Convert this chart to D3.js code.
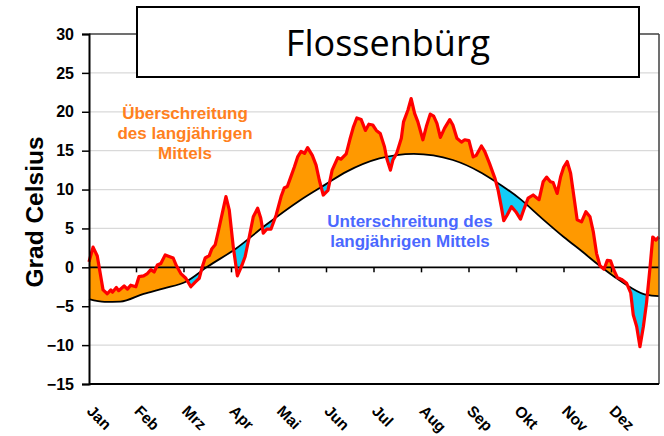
<!DOCTYPE html>
<html><head><meta charset="utf-8">
<script src="https://cdn.jsdelivr.net/npm/d3@7"></script>
<style>body{margin:0;background:#fff} svg{display:block}</style>
</head><body><svg id="c" width="664" height="436"></svg>
<script>
const title = "Flossenbürg";
const yAxisTitle = "Grad Celsius";
const months = ["Jan","Feb","Mrz","Apr","Mai","Jun","Jul","Aug","Sep","Okt","Nov","Dez"];
const yTicks = [-15,-10,-5,0,5,10,15,20,25,30];
const gridValues = [-10,-5,5,10,15,20,25];
const aboveLabel = ["Überschreitung","des langjährigen","Mittels"];
const belowLabel = ["Unterschreitung des","langjährigen Mittels"];

// daily temperature (day of year, °C)
const tempDays = [0,2.6,5.3,9,11.7,14,15,17.5,19,22.5,24.6,26.7,30,32,35,37.4,39.6,41.7,43.8,46,48.8,51.3,53.9,56,58.8,62,65.2,68,70.6,72.3,74.4,77,78.7,80.8,83,85.5,87.7,89.8,92.4,95,98,100,102.6,105.2,108,110,111.6,113.8,116.5,119.8,123,125,127,129,131.5,133.6,135.8,138,140,143,145.4,147.5,150,153,155.7,159.3,161.4,164.7,167,169.4,171.5,174.3,177,179.2,181.7,184,186.5,189.2,190.7,193,194.6,197,200,201.4,204.2,206.3,208.5,210.6,213.8,216,218.5,220.7,222.8,225,227.7,231,233,235.6,238.5,240.6,243.3,246,248,251.3,253.4,256.4,260,262,264,265.6,267.7,270.5,273.3,276.3,278.4,281.2,284.4,288.2,290.8,293,295.5,297.2,299.8,302,304,306.2,308.4,310.5,312.6,315.4,318.2,320.8,322.9,325,327.2,329.8,331.9,334,336.2,338.3,341,344.3,346.9,348.5,350.7,352.8,355,357,359.3,361,363,365];
const tempValues = [0.7,2.6,1.45,-2.9,-3.4,-2.9,-3.2,-2.6,-3.0,-2.4,-2.8,-2.3,-2.5,-1.2,-1.1,-0.8,-0.3,-0.6,0.3,0.5,1.6,1.4,1.2,0.2,-0.8,-1.4,-2.5,-1.9,-1.4,-0.1,1.2,1.5,2.4,2.9,4.8,7.1,9.1,7.4,2.6,-1.1,0.3,1.4,3.9,6.5,7.6,6.3,4.4,4.9,4.9,6.7,9.1,10.2,10.4,11.5,12.9,14.2,14.9,14.65,15.4,14.4,13.15,11.2,9.3,9.9,12.5,14.1,13.9,14.6,16.4,18.1,19.2,19.0,17.6,18.4,18.3,17.6,17.2,15.5,14.0,12.5,13.8,14.65,16.6,18.7,20.2,21.7,19.8,18.7,16.4,18.1,19.7,19.45,18.5,16.7,17.9,19.0,18.3,16.6,16.1,16.4,16.3,14.2,14.4,15.6,14.9,13.4,11.4,9.9,7.8,6.0,6.7,7.8,7.15,6.2,7.4,8.9,9.3,8.7,11.0,11.6,11.0,10.9,9.5,11.65,12.9,13.6,12.1,9.1,6.1,5.85,7.15,6.5,4.6,1.8,0.2,-0.25,0.9,0.85,-0.4,-1.3,-1.55,-2.05,-3.3,-6.1,-7.6,-10.2,-7.6,-4.6,0.1,3.9,3.5,3.9];

// long-term mean (day of year, °C)
const meanDays = [0,10,20,35,48,62,76,94,113,135,151,165,186,208,233,250,259,276,290,304,316,327,337,346,357,365];
const meanValues = [-4.1,-4.45,-4.4,-3.4,-2.7,-1.85,0.1,2.4,5.4,8.6,10.6,12.3,14.0,14.6,13.8,12.3,11.2,8.8,6.3,3.9,2.0,0.2,-1.3,-2.5,-3.55,-3.7];

const temp = tempDays.map((d,i)=>({d, v:tempValues[i]}));
const mean = meanDays.map((d,i)=>({d, v:meanValues[i]}));

const svg = d3.select("#c");
const L = 89, R = 659, T = 34, B = 384;
const x = d3.scaleLinear().domain([0,365]).range([L,R]);
const y = d3.scaleLinear().domain([-15,30]).range([B,T]);
const monthX = i => x(i*365/12);
const FONT = "Liberation Sans, Arial, sans-serif";

// grid
svg.append("g").selectAll("line").data(gridValues).join("line")
  .attr("x1",L).attr("x2",R).attr("y1",d=>y(d)).attr("y2",d=>y(d))
  .attr("stroke","#d9d9d9").attr("stroke-width",1.3);

const meanCurve = d3.curveMonotoneX;
const defs = svg.append("defs");
defs.append("clipPath").attr("id","above").append("path")
  .attr("d", d3.area().x(d=>x(d.d)).y0(0).y1(d=>y(d.v)).curve(meanCurve)(mean));
defs.append("clipPath").attr("id","below").append("path")
  .attr("d", d3.area().x(d=>x(d.d)).y0(d=>y(d.v)).y1(436).curve(meanCurve)(mean));

// orange: below temp & above mean
svg.append("path").attr("clip-path","url(#above)")
  .attr("d", d3.area().x(d=>x(d.d)).y0(B).y1(d=>y(d.v))(temp))
  .attr("fill","#FF9900");
// blue: above temp & below mean
svg.append("path").attr("clip-path","url(#below)")
  .attr("d", d3.area().x(d=>x(d.d)).y0(0).y1(d=>y(d.v))(temp))
  .attr("fill","#13CCF7");

// zero line with month ticks
svg.append("line").attr("x1",L).attr("x2",R).attr("y1",y(0)).attr("y2",y(0))
  .attr("stroke","#000").attr("stroke-width",1.6);
svg.append("g").selectAll("line").data(d3.range(1,12)).join("line")
  .attr("x1",monthX).attr("x2",monthX).attr("y1",y(0)).attr("y2",y(0)+5)
  .attr("stroke","#000").attr("stroke-width",1.5);

// mean line
svg.append("path").attr("d", d3.line().x(d=>x(d.d)).y(d=>y(d.v)).curve(meanCurve)(mean))
  .attr("fill","none").attr("stroke","#000").attr("stroke-width",1.8);
// temperature line
svg.append("path").attr("d", d3.line().x(d=>x(d.d)).y(d=>y(d.v))(temp))
  .attr("fill","none").attr("stroke","#FF0000").attr("stroke-width",3.2)
  .attr("stroke-linejoin","round");

// frame
svg.append("line").attr("x1",L).attr("x2",R).attr("y1",T).attr("y2",T).attr("stroke","#404040").attr("stroke-width",1.5);
svg.append("line").attr("x1",R).attr("x2",R).attr("y1",T).attr("y2",B).attr("stroke","#404040").attr("stroke-width",1.5);
svg.append("line").attr("x1",L).attr("x2",R).attr("y1",B).attr("y2",B).attr("stroke","#000").attr("stroke-width",2);

// y axis
const yAxis = svg.append("g").attr("transform",`translate(${L},0)`)
  .call(d3.axisLeft(y).tickValues(yTicks).tickSize(7).tickPadding(8).tickFormat(d3.format("d")));
yAxis.select(".domain").attr("stroke","#000").attr("stroke-width",2);
yAxis.selectAll(".tick line").attr("stroke","#000").attr("stroke-width",1.5);
yAxis.selectAll("text").attr("font-family",FONT)
  .attr("font-weight","bold").attr("font-size",16).attr("fill","#000");

// month labels
svg.append("g").selectAll("text").data(months).join("text")
  .attr("transform",(d,i)=>`translate(${monthX(i)-3},412) rotate(45)`)
  .attr("font-family",FONT).attr("font-weight","bold")
  .attr("font-size",15.5).text(d=>d);

// y axis title
svg.append("text").attr("transform","translate(43,212) rotate(-90)")
  .attr("text-anchor","middle").attr("font-family",FONT)
  .attr("font-weight","bold").attr("font-size",24.5).text(yAxisTitle);

// title box
svg.append("rect").attr("x",137).attr("y",7).attr("width",502).attr("height",70)
  .attr("fill","#fff").attr("stroke","#000").attr("stroke-width",2);
svg.append("text").attr("x",388).attr("y",56).attr("text-anchor","middle")
  .attr("font-family","Open Sans, sans-serif").attr("font-size",36).text(title);

// annotations
svg.append("g").selectAll("text").data(aboveLabel).join("text")
  .attr("x",185).attr("y",(d,i)=>119+i*20).attr("text-anchor","middle")
  .attr("font-family",FONT).attr("font-weight","bold")
  .attr("font-size",17).attr("fill","#FF8020").text(d=>d);
svg.append("g").selectAll("text").data(belowLabel).join("text")
  .attr("x",410).attr("y",(d,i)=>227+i*20).attr("text-anchor","middle")
  .attr("font-family",FONT).attr("font-weight","bold")
  .attr("font-size",17).attr("fill","#4A68FF").text(d=>d);
</script></body></html>
